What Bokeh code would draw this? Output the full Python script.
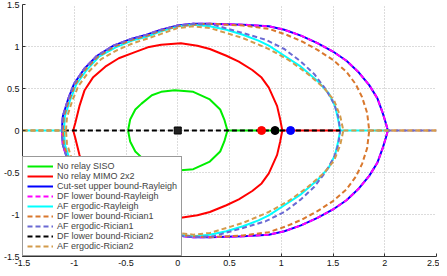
from bokeh.plotting import figure
from bokeh.models import Range1d, FixedTicker
from bokeh.embed import file_html
from bokeh.resources import INLINE

# ---------------- data (upper half of each region; region is symmetric about R2 = 0) -------------
siso_x = [-0.48, -0.46, -0.41, -0.35, -0.25, -0.16, -0.03, 0.15, 0.31, 0.41, 0.45, 0.48]
siso_y = [0.0, 0.13, 0.25, 0.32, 0.42, 0.46, 0.48, 0.46, 0.37, 0.25, 0.13, 0.0]

mimo_x = [-1.01, -0.99, -0.95, -0.90, -0.82, -0.70, -0.57, -0.42, -0.29, -0.16, 0.03, 0.19,
          0.31, 0.47, 0.59, 0.72, 0.81, 0.88, 0.92, 0.96, 0.99, 1.01]
mimo_y = [0.0, 0.09, 0.29, 0.48, 0.63, 0.76, 0.86, 0.93, 0.99, 1.02, 1.04, 1.01,
          0.97, 0.89, 0.82, 0.72, 0.63, 0.51, 0.40, 0.29, 0.13, 0.0]

cutset_x = [-1.12, -1.11, -1.06, -1.00, -0.90, -0.78, -0.62, -0.45, -0.30, -0.16, 0.0, 0.15,
            0.31, 0.63, 0.88, 1.03, 1.19, 1.35, 1.50, 1.63, 1.75, 1.85, 1.93, 1.98, 2.01, 2.03]
cutset_y = [0.0, 0.17, 0.37, 0.56, 0.74, 0.89, 1.01, 1.09, 1.14, 1.20, 1.25, 1.27,
            1.27, 1.26, 1.24, 1.20, 1.13, 1.04, 0.94, 0.83, 0.69, 0.54, 0.38, 0.21, 0.09, 0.0]

df_ray_x = cutset_x
df_ray_y = cutset_y

af_ray_x = [-1.10, -1.09, -1.04, -0.98, -0.88, -0.76, -0.60, -0.44, -0.29, -0.16, 0.0, 0.15,
            0.31, 0.47, 0.63, 0.78, 0.88, 1.03, 1.19, 1.35, 1.46, 1.52, 1.55, 1.57]
af_ray_y = [0.0, 0.17, 0.36, 0.55, 0.72, 0.88, 0.99, 1.07, 1.12, 1.18, 1.24, 1.26,
            1.24, 1.20, 1.14, 1.07, 1.01, 0.89, 0.76, 0.59, 0.44, 0.29, 0.13, 0.0]

df_ric1_x = [-1.11, -1.10, -1.05, -0.99, -0.89, -0.77, -0.61, -0.44, -0.29, -0.16, 0.0, 0.15,
             0.31, 0.63, 0.88, 1.05, 1.20, 1.35, 1.50, 1.63, 1.72, 1.78, 1.83, 1.85]
df_ric1_y = [0.0, 0.17, 0.36, 0.55, 0.73, 0.88, 1.00, 1.08, 1.13, 1.19, 1.24, 1.26,
             1.27, 1.25, 1.21, 1.14, 1.06, 0.96, 0.84, 0.70, 0.55, 0.40, 0.21, 0.0]

af_ric1_x = [-1.12, -1.11, -1.06, -1.00, -0.90, -0.78, -0.62, -0.45, -0.30, -0.16, 0.0, 0.15,
             0.34, 0.63, 0.85, 1.03, 1.19, 1.32, 1.43, 1.51, 1.55, 1.57]
af_ric1_y = [0.0, 0.17, 0.37, 0.56, 0.74, 0.89, 1.01, 1.09, 1.14, 1.20, 1.25, 1.27,
             1.26, 1.16, 1.08, 0.97, 0.82, 0.67, 0.49, 0.32, 0.17, 0.0]

af_ric2_x = [-1.08, -1.07, -1.02, -0.96, -0.86, -0.74, -0.58, -0.43, -0.28, -0.16, 0.0, 0.15,
             0.31, 0.63, 0.88, 1.07, 1.25, 1.41, 1.51, 1.57, 1.60]
af_ric2_y = [0.0, 0.16, 0.35, 0.53, 0.70, 0.85, 0.96, 1.04, 1.10, 1.15, 1.22, 1.24,
             1.22, 1.10, 0.97, 0.84, 0.68, 0.51, 0.36, 0.17, 0.0]

# segments lying on the R2 = 0 axis
siso_axis = [0.48, 1.01]
mimo_axis = [1.01, 1.57]
af_ray_axis_l = [-1.5, -1.10]
af_ray_axis_r = [1.57, 2.05]
df_ric1_axis_l = [-1.5, -1.11]
df_ric1_axis_r = [1.85, 2.5]
af_ric1_axis_r = [2.03, 2.5]
df_ric2_axis = [-1.10, 1.57]
af_ric2_axis_l = [-1.5, -1.08]
af_ric2_axis_r = [1.60, 2.5]

# special operating points on the axis
square_x = [0.0]
dot_x = [0.81, 0.94, 1.09]
dot_colors = ["#ff0000", "#000000", "#0000ff"]

x_ticks = [-1.5, -1.0, -0.5, 0.0, 0.5, 1.0, 1.5, 2.0, 2.5]
x_tick_labels = ["-1.5", "-1", "-0.5", "0", "0.5", "1", "1.5", "2", "2.5"]
y_ticks = [-1.5, -1.0, -0.5, 0.0, 0.5, 1.0, 1.5]
y_tick_labels = ["-1.5", "-1", "-0.5", "0", "0.5", "1", "1.5"]


def closed(ux, uy):
    xs = list(ux) + list(ux[::-1])
    ys = list(uy) + [-v for v in uy[::-1]]
    return xs, ys


FONT = "Liberation Sans"
p = figure(width=439, height=268, x_range=Range1d(-1.5, 2.5), y_range=Range1d(-1.5, 1.5),
           output_backend="svg", toolbar_location=None,
           min_border_left=2, min_border_right=3, min_border_top=4, min_border_bottom=0)
p.outline_line_color = None
p.background_fill_color = "white"

for ax in (p.xaxis[0], p.yaxis[0]):
    ax.axis_line_color = "#333333"
    ax.major_tick_line_color = "#333333"
    ax.major_tick_in = 3
    ax.major_tick_out = 0
    ax.minor_tick_line_color = None
    ax.major_label_text_font = FONT
    ax.major_label_text_font_size = "9px"
    ax.major_label_text_color = "#111111"
    ax.major_label_standoff = 3

p.xaxis.ticker = FixedTicker(ticks=x_ticks)
p.yaxis.ticker = FixedTicker(ticks=y_ticks)
p.xaxis.major_label_overrides = {t: s for t, s in zip(x_ticks, x_tick_labels)}
p.yaxis.major_label_overrides = {t: s for t, s in zip(y_ticks, y_tick_labels)}

p.grid.grid_line_color = "#b8b8b8"
p.grid.grid_line_dash = "1 2"
p.grid.grid_line_width = 1

W = 2
DASH = "5 3"
series = [
    (siso_x, siso_y, "#00ee00", "solid", "No relay SISO", [siso_axis]),
    (mimo_x, mimo_y, "#ff0000", "solid", "No relay MIMO 2x2", [mimo_axis]),
    (cutset_x, cutset_y, "#0000ff", "solid", "Cut-set upper bound-Rayleigh", []),
    (df_ray_x, df_ray_y, "#ff00ff", DASH, "DF lower bound-Rayleigh", []),
    (af_ray_x, af_ray_y, "#00ffff", "solid", "AF ergodic-Rayleigh", [af_ray_axis_l, af_ray_axis_r]),
    (df_ric1_x, df_ric1_y, "#d9782d", DASH, "DF lower bound-Rician1", [df_ric1_axis_l, df_ric1_axis_r]),
    (af_ric1_x, af_ric1_y, "#6a6ad4", DASH, "AF ergodic-Rician1", [af_ric1_axis_r]),
    (None, None, "#000000", DASH, "DF lower bound-Rician2", [df_ric2_axis]),
    (af_ric2_x, af_ric2_y, "#d39b4b", DASH, "AF ergodic-Rician2", [af_ric2_axis_l, af_ric2_axis_r]),
]

for ux, uy, col, dash, lab, axes in series:
    first = True
    if ux is not None:
        xs, ys = closed(ux, uy)
        p.line(xs, ys, line_color=col, line_width=W, line_dash=dash, legend_label=lab)
        first = False
    for seg in axes:
        if first:
            p.line(seg, [0, 0], line_color=col, line_width=W, line_dash=dash, legend_label=lab)
            first = False
        else:
            p.line(seg, [0, 0], line_color=col, line_width=W, line_dash=dash)

p.scatter(square_x, [0] * len(square_x), marker="square", size=7, fill_color="#222222",
          line_color="#000000")
p.scatter(dot_x, [0] * len(dot_x), marker="circle", size=8, fill_color=dot_colors,
          line_color=dot_colors)

lg = p.legend[0]
lg.location = "bottom_left"
lg.margin = 0
lg.padding = 4
lg.spacing = 0
lg.glyph_width = 26
lg.glyph_height = 10
lg.label_height = 10
lg.label_standoff = 4
lg.label_text_font = FONT
lg.label_text_font_size = "9px"
lg.label_text_line_height = 1.0
lg.border_line_color = "#333333"
lg.border_line_width = 1
lg.background_fill_alpha = 1.0
lg.background_fill_color = "white"

open("out.html", "w").write(file_html(p, INLINE))
